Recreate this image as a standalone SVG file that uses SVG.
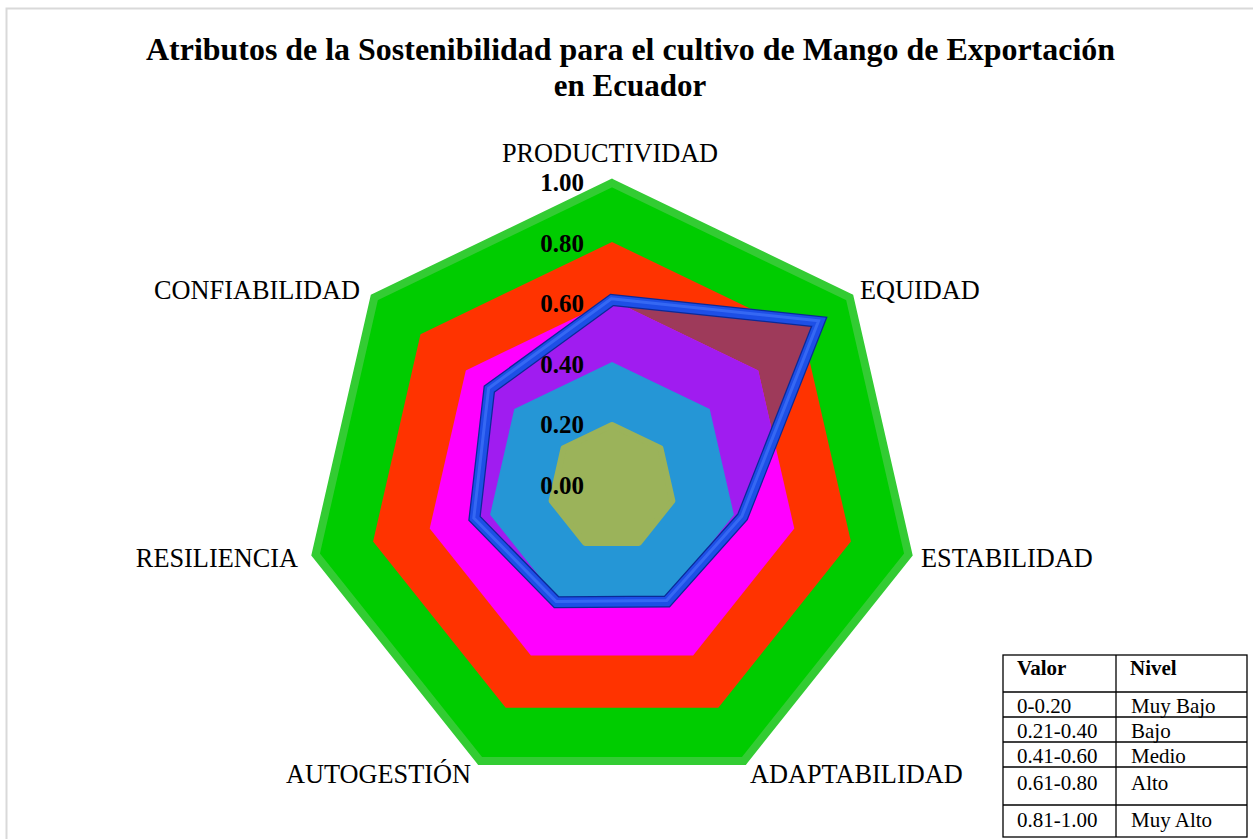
<svg xmlns="http://www.w3.org/2000/svg" width="1253" height="839" viewBox="0 0 1253 839">
<style>
.title{font-family:"Liberation Serif","Times New Roman",serif;font-weight:bold;font-size:31px;fill:#000}
.ax{font-family:"Liberation Serif","Times New Roman",serif;font-size:26.3px;fill:#000}
.tick{font-family:"Liberation Serif","Times New Roman",serif;font-weight:bold;font-size:25px;fill:#000;text-anchor:end}
.tb{font-family:"Liberation Serif","Times New Roman",serif;font-size:21px;fill:#000}
.tbh{font-family:"Liberation Serif","Times New Roman",serif;font-size:21px;font-weight:bold;fill:#000}
.grid{fill:none;stroke:#000;stroke-width:1.3}
</style>
<defs>
<clipPath id="magClip"><polygon points="612,300 758.2,370.4 794.3,528.6 693.1,655.5 530.9,655.5 429.7,528.6 465.8,370.4"/></clipPath>
</defs>
<rect x="6.5" y="8.5" width="1260" height="850" fill="#fff" stroke="#d9d9d9" stroke-width="2"/>
<g id="title">
<text class="title" x="630.5" y="60" text-anchor="middle" textLength="969" lengthAdjust="spacingAndGlyphs">Atributos de la Sostenibilidad para el cultivo de Mango de Exportación</text>
<text class="title" x="630" y="96" text-anchor="middle">en Ecuador</text>
</g>
<g id="levels">
<polygon id="lvl100" points="612,183 849.7,297.5 908.4,554.6 743.9,760.9 480.1,760.9 315.6,554.6 374.3,297.5" fill="#00cc00" stroke="#33cc33" stroke-width="8"/>
<polygon id="lvl080" points="612,242 803.5,334.2 850.9,541.5 718.3,707.7 505.7,707.7 373.1,541.5 420.5,334.2" fill="#ff3300"/>
<polygon id="dataFillOuter" points="612,300 819.2,321.8 742.6,516.8 667.1,601.4 556.5,602.3 474.5,518.4 489.3,389.1" fill="#9e3a5a"/>
<polygon id="lvl060" points="612,300 758.2,370.4 794.3,528.6 693.1,655.5 530.9,655.5 429.7,528.6 465.8,370.4" fill="#ff00ff"/>
<polygon id="dataFillInner" clip-path="url(#magClip)" points="612,300 819.2,321.8 742.6,516.8 667.1,601.4 556.5,602.3 474.5,518.4 489.3,389.1" fill="#a01cf0"/>
<polygon id="lvl040" points="612,362 709.7,409.1 733.9,514.8 666.2,599.6 557.8,599.6 490.1,514.8 514.3,409.1" fill="#2596d6"/>
<polygon id="lvl020" points="612,425 660.5,448.3 672.4,500.8 638.9,542.9 585.1,542.9 551.6,500.8 563.5,448.3" fill="#9bb35a" stroke="#9bb35a" stroke-width="6" stroke-linejoin="round"/>
</g>
<g id="connectors">
<polygon points="612,300 819.2,321.8 742.6,516.8 667.1,601.4 556.5,602.3 474.5,518.4 489.3,389.1" fill="none" stroke="#0a2a98" stroke-width="12" stroke-linejoin="miter"/>
<polygon points="612,300 819.2,321.8 742.6,516.8 667.1,601.4 556.5,602.3 474.5,518.4 489.3,389.1" fill="none" stroke="#1d4fe6" stroke-width="9.5" stroke-linejoin="miter"/>
<polygon points="611.3,298.8 818.6,320.7 741.8,516.3 666.7,600.6 556.2,601.5 473.8,518 488.6,388.3" fill="none" stroke="#3c6ef6" stroke-width="3" stroke-linejoin="miter" opacity="0.8"/>
</g>
<g id="ticks">
<text class="tick" x="584" y="191">1.00</text>
<text class="tick" x="584" y="251.6">0.80</text>
<text class="tick" x="584" y="312.2">0.60</text>
<text class="tick" x="584" y="372.8">0.40</text>
<text class="tick" x="584" y="433.4">0.20</text>
<text class="tick" x="584" y="494">0.00</text>
</g>
<g id="node-productividad"><text class="ax" x="610" y="162" text-anchor="middle">PRODUCTIVIDAD</text></g>
<g id="node-equidad"><text class="ax" x="860" y="299">EQUIDAD</text></g>
<g id="node-estabilidad"><text class="ax" x="921" y="567">ESTABILIDAD</text></g>
<g id="node-adaptabilidad"><text class="ax" x="750" y="783">ADAPTABILIDAD</text></g>
<g id="node-autogestion"><text class="ax" x="471" y="783" text-anchor="end">AUTOGESTIÓN</text></g>
<g id="node-resiliencia"><text class="ax" x="298" y="567" text-anchor="end">RESILIENCIA</text></g>
<g id="node-confiabilidad"><text class="ax" x="360" y="299" text-anchor="end">CONFIABILIDAD</text></g>
<g id="legend-table">
<rect x="1003" y="655" width="244" height="182" fill="#fff" stroke="#000" stroke-width="1.3"/>
<line class="grid" x1="1116" y1="655" x2="1116" y2="837"/>
<line class="grid" x1="1003" y1="692" x2="1247" y2="692"/>
<line class="grid" x1="1003" y1="717" x2="1247" y2="717"/>
<line class="grid" x1="1003" y1="742" x2="1247" y2="742"/>
<line class="grid" x1="1003" y1="767" x2="1247" y2="767"/>
<line class="grid" x1="1003" y1="805" x2="1247" y2="805"/>
<text class="tbh" x="1017" y="675">Valor</text>
<text class="tbh" x="1130" y="675">Nivel</text>
<text class="tb" x="1017" y="713">0-0.20</text>
<text class="tb" x="1131" y="713">Muy Bajo</text>
<text class="tb" x="1017" y="738">0.21-0.40</text>
<text class="tb" x="1131" y="738">Bajo</text>
<text class="tb" x="1017" y="763">0.41-0.60</text>
<text class="tb" x="1131" y="763">Medio</text>
<text class="tb" x="1017" y="790">0.61-0.80</text>
<text class="tb" x="1131" y="790">Alto</text>
<text class="tb" x="1017" y="827">0.81-1.00</text>
<text class="tb" x="1131" y="827">Muy Alto</text>
</g>
</svg>
